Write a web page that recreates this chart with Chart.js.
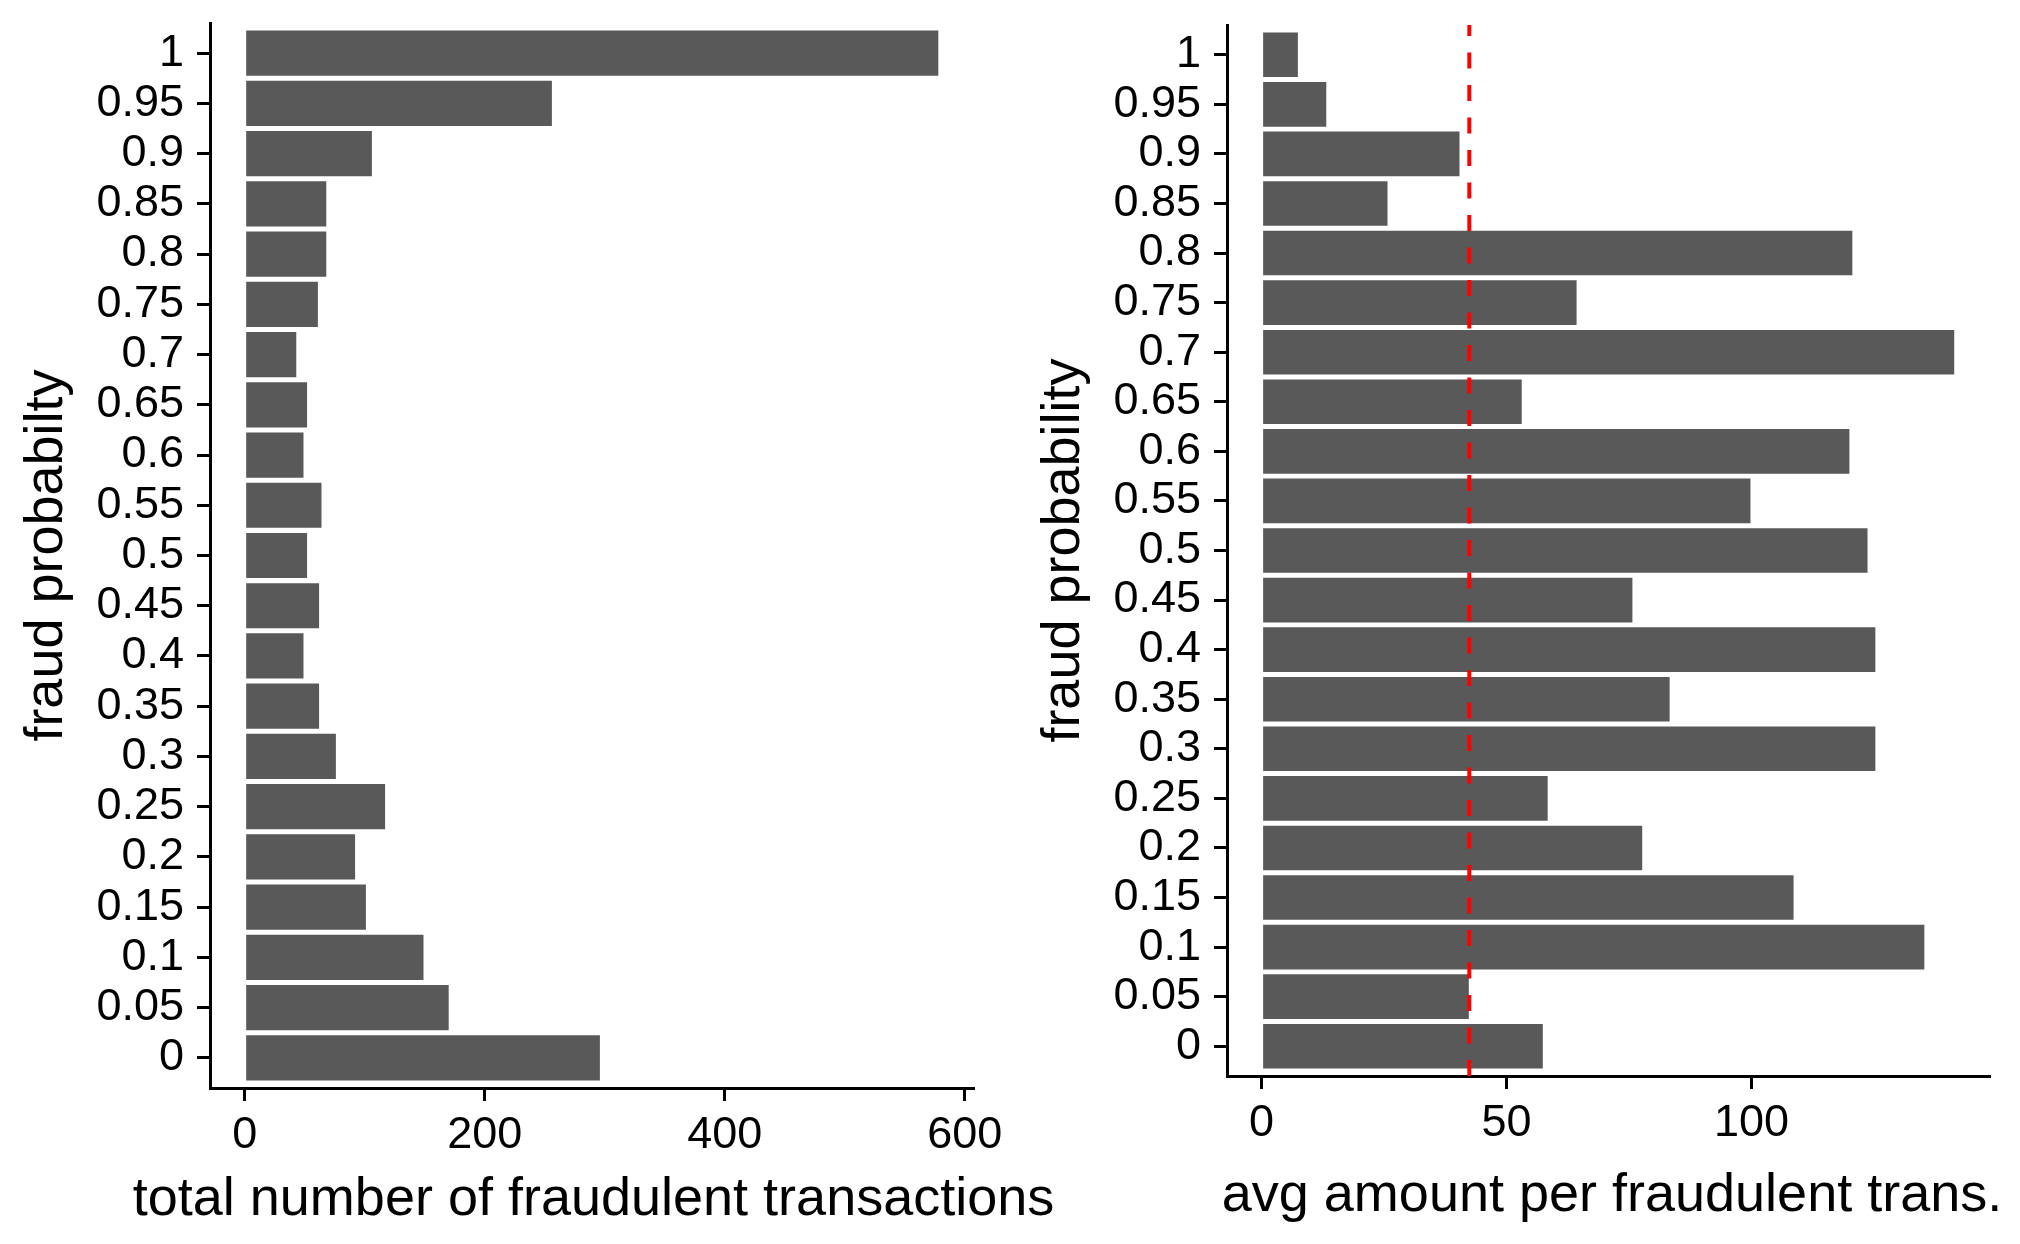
<!DOCTYPE html>
<html>
<head>
<meta charset="utf-8">
<script src="https://cdn.jsdelivr.net/npm/chart.js@4/dist/chart.umd.min.js"></script>
<style>
  html, body { margin: 0; padding: 0; background: #ffffff; }
  body { width: 2020px; height: 1244px; position: relative; overflow: hidden; }
  .panel { position: absolute; top: 0; height: 1244px; }
  #leftWrap { left: 0; width: 1100px; }
  #rightWrap { left: 1010px; width: 1010px; }
</style>
</head>
<body>
<div class="panel" id="leftWrap"><canvas id="leftChart" width="1100" height="1244"></canvas></div>
<div class="panel" id="rightWrap"><canvas id="rightChart" width="1010" height="1244"></canvas></div>
<script>
// ---- data (index 0 = probability 0, index 20 = probability 1) ----
const probLabels = ['0','0.05','0.1','0.15','0.2','0.25','0.3','0.35','0.4','0.45','0.5',
                    '0.55','0.6','0.65','0.7','0.75','0.8','0.85','0.9','0.95','1'];
const fraudCounts = [296, 170, 149, 101, 92, 117, 76, 62, 49, 62, 52,
                     64, 49, 52, 43, 61, 68, 68, 106, 256, 578];
const avgAmounts = [57.4, 42.3, 135.3, 108.6, 77.7, 58.4, 125.3, 83.3, 125.3, 75.7, 123.7,
                    99.8, 120.0, 53.1, 141.4, 64.3, 120.6, 25.7, 40.4, 13.2, 7.4];
const meanAmount = 42.4;
const leftXTicks = [0, 200, 400, 600];
const rightXTicks = [0, 50, 100];
const leftXTitle = 'total number of fraudulent transactions';
const rightXTitle = 'avg amount per fraudulent trans.';
const leftYTitle = 'fraud probabilty';
const rightYTitle = 'fraud probability';

const FONT_FAMILY = '"Liberation Sans", Arial, Helvetica, sans-serif';
Chart.defaults.font.family = FONT_FAMILY;
Chart.defaults.color = '#000000';

const BAR_COLOR = '#595959';
const TICK_FONT = 45;
const TITLE_FONT = 54;

// x-axis title drawn centred under the plot area (not squeezed to the plot width)
const xTitlePlugin = {
  id: 'xTitle',
  afterDraw(chart, args, opts) {
    if (!opts || !opts.text) return;
    const { ctx, chartArea } = chart;
    ctx.save();
    ctx.font = TITLE_FONT + 'px ' + FONT_FAMILY;
    ctx.fillStyle = '#000';
    ctx.textAlign = 'center';
    ctx.textBaseline = 'alphabetic';
    ctx.fillText(opts.text, (chartArea.left + chartArea.right) / 2 + (opts.dx || 0),
                 chartArea.bottom + opts.baselineOffset);
    ctx.restore();
  }
};

function makeChart(canvasId, cfg) {
  const barData = cfg.values.map((v, i) => ({ x: v, y: i }));
  const datasets = [{
    type: 'bar',
    data: barData,
    backgroundColor: BAR_COLOR,
    borderWidth: 0,
    barPercentage: 0.9,
    categoryPercentage: 1.0,
    order: 1
  }];
  if (cfg.meanLine !== undefined) {
    datasets.push({
      type: 'line',
      data: [{ x: cfg.meanLine, y: cfg.yMin }, { x: cfg.meanLine, y: cfg.yMax }],
      borderColor: '#ff0000',
      borderWidth: 4,
      borderDash: [16, 16.5],
      pointRadius: 0,
      fill: false,
      order: 0
    });
  }
  return new Chart(document.getElementById(canvasId), {
    data: { datasets },
    plugins: [xTitlePlugin],
    options: {
      indexAxis: 'y',
      responsive: false,
      devicePixelRatio: 1,
      animation: false,
      layout: { padding: cfg.padding },
      plugins: {
        legend: { display: false },
        tooltip: { enabled: false },
        xTitle: { text: cfg.xTitle, baselineOffset: cfg.xTitleBaseline, dx: cfg.xTitleDx }
      },
      scales: {
        x: {
          type: 'linear',
          position: 'bottom',
          offset: false,
          min: cfg.xMin,
          max: cfg.xMax,
          afterBuildTicks: (s) => { s.ticks = cfg.xTicks.map(v => ({ value: v })); },
          afterFit: (s) => { s.height = cfg.xHeight; s.paddingLeft = 0; s.paddingRight = 0; },
          grid: { offset: false, drawOnChartArea: false, drawTicks: true, tickLength: 13, color: '#000', lineWidth: 3 },
          border: { display: true, color: '#000', width: 3 },
          ticks: { font: { size: TICK_FONT }, color: '#000', padding: 8, autoSkip: false, maxRotation: 0 },
          title: { display: false }
        },
        y: {
          type: 'linear',
          position: 'left',
          offset: false,
          min: cfg.yMin,
          max: cfg.yMax,
          afterBuildTicks: (s) => { s.ticks = probLabels.map((_, i) => ({ value: i })); },
          afterFit: (s) => { s.width = cfg.yWidth; s.paddingTop = 0; s.paddingBottom = 0; },
          grid: { offset: false, drawOnChartArea: false, drawTicks: true, tickLength: 13, color: '#000', lineWidth: 3 },
          border: { display: true, color: '#000', width: 3 },
          ticks: { font: { size: TICK_FONT }, color: '#000', padding: 13, autoSkip: false,
                   callback: (v) => probLabels[v] },
          title: { display: true, text: cfg.yTitle, font: { size: TITLE_FONT }, color: '#000',
                   padding: { top: cfg.yTitlePad, bottom: 0 } }
        }
      }
    }
  });
}

makeChart('leftChart', {
  values: fraudCounts,
  xMin: -28.9, xMax: 606.9, xTicks: leftXTicks,
  yMin: -0.6, yMax: 20.6,
  padding: { top: 23, right: 127, left: 0, bottom: 0 },
  yWidth: 210, xHeight: 156,
  xTitle: leftXTitle, yTitle: leftYTitle,
  xTitleBaseline: 127, xTitleDx: 2, yTitlePad: 15
});

makeChart('rightChart', {
  values: avgAmounts,
  meanLine: meanAmount,
  xMin: -7.07, xMax: 148.5, xTicks: rightXTicks,
  yMin: -0.6, yMax: 20.6,
  padding: { top: 25, right: 31, left: 0, bottom: 0 },
  yWidth: 217, xHeight: 168,
  xTitle: rightXTitle, yTitle: rightYTitle,
  xTitleBaseline: 135, xTitleDx: 4, yTitlePad: 22
});
</script>
</body>
</html>
